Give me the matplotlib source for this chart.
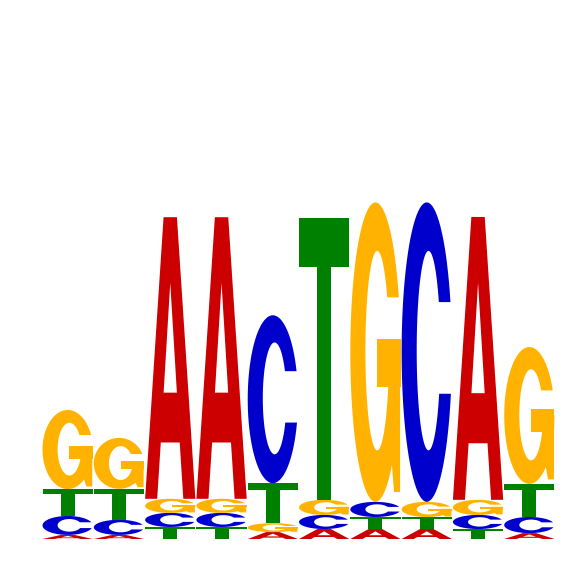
import numpy as np
import matplotlib
matplotlib.use("Agg")
import matplotlib.pyplot as plt
from matplotlib.path import Path
from matplotlib.patches import PathPatch
from matplotlib.transforms import Affine2D

# information content (bits) of each letter at each of the 10 positions
letters = ["A", "C", "G", "T"]
height_A = [0.016, 0.016, 1.100, 1.100, 0.027, 0.039, 0.039, 0.039, 1.105, 0.023]
height_C = [0.074, 0.059, 0.055, 0.055, 0.656, 0.055, 0.059, 1.170, 0.055, 0.063]
height_G = [0.309, 0.199, 0.055, 0.055, 0.035, 0.059, 1.170, 0.059, 0.059, 0.535]
height_T = [0.105, 0.121, 0.047, 0.047, 0.156, 1.100, 0.047, 0.047, 0.039, 0.129]

colors = {"A": "#CC0000", "C": "#0000CC", "G": "#FFB300", "T": "#008000"}


# --- letter outlines in a unit box (Helvetica-bold like, stretched) ---
def ellipse_pts(cx, cy, rx, ry, a0, a1, num=80):
    t = np.radians(np.linspace(a0, a1, num))
    return np.column_stack([cx + rx * np.cos(t), cy + ry * np.sin(t)])


def poly(pts):
    pts = np.asarray(pts, float)
    return Path(np.vstack([pts, pts[:1]]), closed=True)


OUT = (0.5, 0.5, 0.5, 0.5)
INN = (0.535, 0.505, 0.235, 0.333)


def cut_angle(e, y):
    return np.degrees(np.arcsin((y - e[1]) / e[3]))


def ring(top_cut, bot_cut):
    # outer arc ccw from top cut round to bottom cut, inner arc back
    o0, o1 = cut_angle(OUT, top_cut), 360 + cut_angle(OUT, bot_cut)
    i0, i1 = cut_angle(INN, top_cut), 360 + cut_angle(INN, bot_cut)
    return poly(np.vstack([ellipse_pts(*OUT, o0, o1), ellipse_pts(*INN, i1, i0)]))


def glyph(ch):
    if ch == "A":
        outer = poly([(0, 0), (0.24, 0), (0.312, 0.2), (0.688, 0.2), (0.76, 0),
                      (1, 0), (0.633, 1), (0.367, 1)])
        hole = poly([(0.368, 0.377), (0.5, 0.767), (0.632, 0.377)])
        return [Path.make_compound_path(outer, hole)]
    if ch == "T":
        return [poly([(0, 0.828), (1, 0.828), (1, 1), (0, 1)]),
                poly([(0.36, 0), (0.64, 0), (0.64, 0.84), (0.36, 0.84)])]
    if ch == "C":
        return [ring(0.667, 0.361)]
    if ch == "G":
        return [ring(0.683, 0.5),
                poly([(0.533, 0.383), (1.0, 0.383), (1.0, 0.544), (0.533, 0.544)]),
                poly([(0.767, 0.54), (0.99, 0.54), (0.99, 0.033), (0.87, 0.033), (0.767, 0.25)])]


def draw_letter(ax, ch, x, y, w, h):
    tr = Affine2D().scale(w, h).translate(x, y)
    for p in glyph(ch):
        ax.add_patch(PathPatch(tr.transform_path(p), facecolor=colors[ch],
                               edgecolor="none"))


heights = np.array([height_A, height_C, height_G, height_T])
n = heights.shape[1]

fig = plt.figure(figsize=(5.66, 5.66), dpi=100)
ax = fig.add_axes([42 / 566, 27 / 566, 513 / 566, 512 / 566])
ax.set_xlim(0.5, n + 0.5)
ax.set_ylim(0, 2)
ax.axis("off")

for i in range(n):
    order = np.argsort(heights[:, i])
    base = 0.0
    for k in order:
        h = heights[k, i]
        draw_letter(ax, letters[k], i + 1 - 0.49, base, 0.98, h)
        base += h

fig.savefig("out.png", dpi=100)
